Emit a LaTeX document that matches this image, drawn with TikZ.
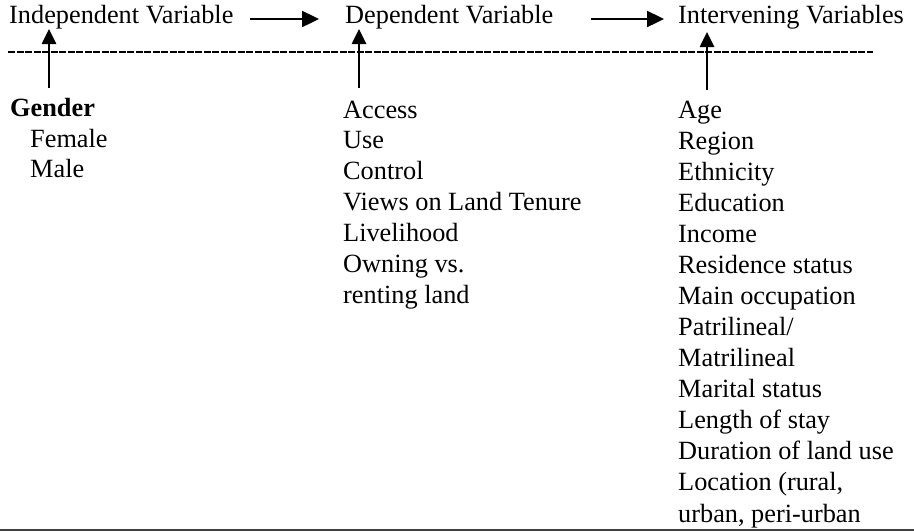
\documentclass[tikz,border=0pt]{standalone}
\usepackage{fontspec}
\setmainfont{Liberation Serif}
\usetikzlibrary{arrows.meta}
\begin{document}
\begin{tikzpicture}[x=1pt,y=-1pt,
  lbl/.style={anchor=base west, inner sep=0pt, font=\fontsize{26.3}{31}\selectfont},
  arr/.style={line width=2.6pt, -{Triangle[length=15pt,width=14pt]}},
  harr/.style={line width=2.4pt, -{Triangle[length=17pt,width=16pt]}},
  rulel/.style={line width=2.2pt, dash pattern=on 7pt off 1.5pt},
  baseline/.style={line width=1.8pt, black!75}]
\useasboundingbox (0,0) rectangle (914,531);
% titles
\node[lbl] (indep) at (9,23) {Independent Variable};
\node[lbl] (dep) at (345,23) {Dependent Variable};
\node[lbl] (interv) at (678,23) {Intervening Variables};
% horizontal arrows
\coordinate (h1s) at (250,19); \coordinate (h1e) at (319,19);
\coordinate (h2s) at (591,19); \coordinate (h2e) at (664,19);
\draw[harr] (h1s) -- (h1e);
\draw[harr] (h2s) -- (h2e);
% dashed rule
\coordinate (rl) at (8,52); \coordinate (rr) at (873,52);
\draw[rulel] (rl) -- (rr);
% lists
\node[lbl, font=\fontsize{26.3}{31}\selectfont\bfseries] (g0) at (10,116) {Gender};
\node[lbl] (g1) at (30,147) {Female};
\node[lbl] (g2) at (30,177) {Male};
\foreach \t [count=\i from 0] in {Access,Use,Control,Views on Land Tenure,Livelihood,Owning vs.,renting land}
  \node[lbl] (d\i) at (343,118+30.85*\i) {\t};
\foreach \t [count=\i from 0] in {Age,Region,Ethnicity,Education,Income,Residence status,Main occupation,Patrilineal/,Matrilineal,Marital status,Length of stay,Duration of land use,{Location (rural,},{urban, peri-urban}}
  \node[lbl] (v\i) at (678,118+31.08*\i) {\t};
% vertical arrows
\coordinate (a1s) at (49,88); \coordinate (a1e) at (49,29);
\coordinate (a2s) at (359,88); \coordinate (a2e) at (359,29);
\coordinate (a3s) at (707,90); \coordinate (a3e) at (707,32);
\draw[arr] (a1s) -- (a1e);
\draw[arr] (a2s) -- (a2e);
\draw[arr] (a3s) -- (a3e);
% bottom rule
\coordinate (bl) at (0,530); \coordinate (br) at (914,530);
\draw[baseline] (bl) -- (br);
\end{tikzpicture}
\end{document}
